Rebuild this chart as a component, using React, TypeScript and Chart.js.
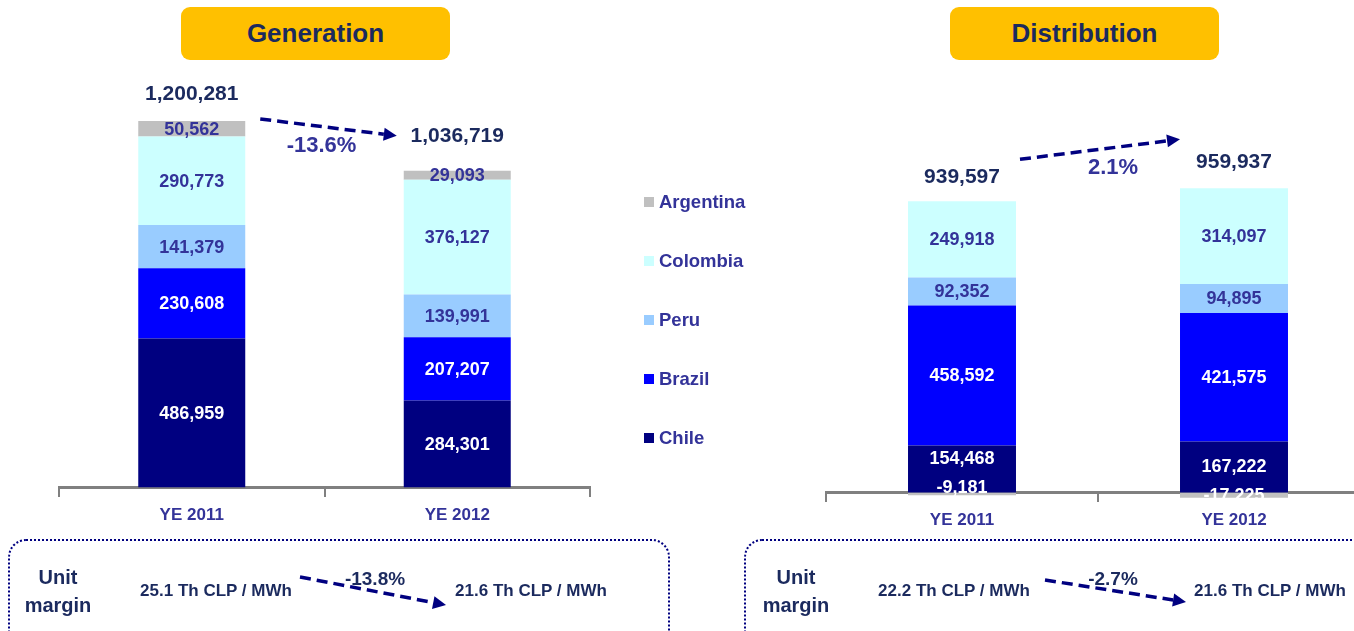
import { useEffect, useRef } from 'react';
import { Chart, registerables } from 'chart.js';

Chart.register(...registerables);

// ---------- data ----------
const categories = ['YE 2011', 'YE 2012'];
const seriesNames = ['Chile', 'Brazil', 'Peru', 'Colombia', 'Argentina'];

const genChile = [486959, 284301];
const genBrazil = [230608, 207207];
const genPeru = [141379, 139991];
const genColombia = [290773, 376127];
const genArgentina = [50562, 29093];
const genTotals = [1200281, 1036719];
const genChange = '-13.6%';

const distChile = [154468, 167222];
const distBrazil = [458592, 421575];
const distPeru = [92352, 94895];
const distColombia = [249918, 314097];
const distArgentina = [-9181, -17225];
const distTotals = [939597, 959937];
const distChange = '2.1%';

const genMargin = ['25.1 Th CLP / MWh', '21.6 Th CLP / MWh'];
const genMarginChange = '-13.8%';
const distMargin = ['22.2 Th CLP / MWh', '21.6 Th CLP / MWh'];
const distMarginChange = '-2.7%';

// ---------- styles ----------
const FONT = "'Liberation Sans', Arial, Helvetica, sans-serif";
const seriesColors = ['#000080', '#0000FF', '#99CCFF', '#CCFFFF', '#C0C0C0'];
const seriesLabelColors = ['#FFFFFF', '#FFFFFF', '#333399', '#333399', '#333399'];
const PURPLE = '#333399';
const DARK = '#1B2A5E';
const NAVY = '#000080';
const GOLD = '#FFC000';

Chart.defaults.font.family = FONT;

type Overlay = {
  totals: number[];
  totalLift: number[];
  change: string;
  arrowStart: [number, number];
  arrowEnd: [number, number];
  changeOffset: [number, number];
};

function fmt(v: number) {
  return v.toLocaleString('en-US');
}

function drawArrow(ctx: CanvasRenderingContext2D, x1: number, y1: number, x2: number, y2: number) {
  const ang = Math.atan2(y2 - y1, x2 - x1);
  const head = 13;
  const hw = 6.5;
  const bx = x2 - head * Math.cos(ang);
  const by = y2 - head * Math.sin(ang);
  ctx.save();
  ctx.strokeStyle = NAVY;
  ctx.lineWidth = 3.5;
  ctx.setLineDash([11, 6]);
  ctx.beginPath();
  ctx.moveTo(x1, y1);
  ctx.lineTo(bx, by);
  ctx.stroke();
  ctx.setLineDash([]);
  ctx.fillStyle = NAVY;
  ctx.beginPath();
  ctx.moveTo(x2, y2);
  ctx.lineTo(bx + hw * Math.sin(ang), by - hw * Math.cos(ang));
  ctx.lineTo(bx - hw * Math.sin(ang), by + hw * Math.cos(ang));
  ctx.closePath();
  ctx.fill();
  ctx.restore();
}

function makeOverlay(id: string, cfg: Overlay) {
  return {
    id,
    afterDatasetsDraw(chart: any) {
      const ctx: CanvasRenderingContext2D = chart.ctx;
      ctx.save();
      ctx.textAlign = 'center';
      ctx.textBaseline = 'middle';
      const tops: number[] = [];
      const bars: any[][] = [];
      // collect label placements first
      const labels: { text: string; x: number; y: number; color: string; neg: boolean; bar: number; order: number }[] = [];
      chart.data.datasets.forEach((ds: any, di: number) => {
        const meta = chart.getDatasetMeta(di);
        meta.data.forEach((el: any, i: number) => {
          const v = ds.data[i];
          const p = el.getProps(['x', 'y', 'base', 'width'], true);
          if (!bars[i]) bars[i] = [];
          bars[i].push(p);
          if (v > 0) tops[i] = tops[i] === undefined ? p.y : Math.min(tops[i], p.y);
          let cy = (p.y + p.base) / 2 + 1;
          const h = Math.abs(p.base - p.y);
          if (v < 0 && h < 4) cy = p.base - 4;
          labels.push({ text: fmt(v), x: p.x, y: cy, color: v < 0 ? '#FFFFFF' : ds.labelColor, neg: v < 0, bar: i, order: di });
        });
      });
      // keep the lowest positive label clear of a negative label in the same bar
      labels
        .filter((l) => l.neg)
        .forEach((n) => {
          const above = labels.find((l) => !l.neg && l.bar === n.bar && l.order === 0);
          if (above && n.y - above.y < 29) above.y = n.y - 29;
        });
      ctx.font = `bold 18px ${FONT}`;
      labels.forEach((l) => {
        ctx.fillStyle = l.color;
        ctx.fillText(l.text, l.x, l.y);
      });
      // totals
      ctx.font = `bold 21px ${FONT}`;
      ctx.fillStyle = DARK;
      cfg.totals.forEach((t, i) => {
        const p = bars[i][0];
        ctx.fillText(fmt(t), p.x, tops[i] - cfg.totalLift[i]);
      });
      // change arrow
      const b0 = bars[0][0];
      const b1 = bars[1][0];
      const x1 = b0.x + b0.width / 2 + cfg.arrowStart[0];
      const y1 = tops[0] + cfg.arrowStart[1];
      const x2 = b1.x - b1.width / 2 + cfg.arrowEnd[0];
      const y2 = tops[1] + cfg.arrowEnd[1];
      drawArrow(ctx, x1, y1, x2, y2);
      ctx.font = `bold 22px ${FONT}`;
      ctx.fillStyle = PURPLE;
      ctx.fillText(cfg.change, (x1 + x2) / 2 + cfg.changeOffset[0], (y1 + y2) / 2 + cfg.changeOffset[1]);
      ctx.restore();
    },
  };
}

function buildConfig(
  series: number[][],
  yMin: number,
  yMax: number,
  padding: { left: number; right: number; top: number; bottom: number },
  barPct: number,
  overlay: any
): any {
  return {
    type: 'bar',
    data: {
      labels: categories,
      datasets: seriesNames.map((name, k) => ({
        label: name,
        data: series[k],
        backgroundColor: seriesColors[k],
        labelColor: seriesLabelColors[k],
        borderWidth: 0,
        barPercentage: barPct,
        categoryPercentage: 1,
      })),
    },
    options: {
      responsive: false,
      animation: false,
      devicePixelRatio: 1,
      layout: { padding },
      plugins: {
        legend: { display: false },
        tooltip: { enabled: false },
      },
      scales: {
        x: {
          stacked: true,
          position: { y: 0 },
          offset: true,
          grid: {
            display: true,
            drawOnChartArea: false,
            drawTicks: true,
            tickLength: 8,
            color: '#808080',
            lineWidth: 2,
            offset: true,
          },
          border: { display: true, color: '#808080', width: 3 },
          ticks: {
            color: PURPLE,
            padding: 10,
            font: { family: FONT, size: 17, weight: 'bold' },
          },
        },
        y: { stacked: true, display: false, min: yMin, max: yMax },
      },
    },
    plugins: [overlay],
  };
}

function Arrow({ x1, y1, x2, y2 }: { x1: number; y1: number; x2: number; y2: number }) {
  const ang = Math.atan2(y2 - y1, x2 - x1);
  const head = 13;
  const hw = 6.5;
  const bx = x2 - head * Math.cos(ang);
  const by = y2 - head * Math.sin(ang);
  const pts = `${x2},${y2} ${bx + hw * Math.sin(ang)},${by - hw * Math.cos(ang)} ${bx - hw * Math.sin(ang)},${by + hw * Math.cos(ang)}`;
  return (
    <g>
      <line x1={x1} y1={y1} x2={bx} y2={by} stroke={NAVY} strokeWidth={3.5} strokeDasharray="11 6" />
      <polygon points={pts} fill={NAVY} />
    </g>
  );
}

function Txt({ x, y, size, color, children }: any) {
  return (
    <div
      style={{
        position: 'absolute',
        left: x,
        top: y,
        transform: 'translate(-50%, -50%)',
        fontSize: size,
        fontWeight: 'bold',
        color,
        whiteSpace: 'nowrap',
        lineHeight: 1,
      }}
    >
      {children}
    </div>
  );
}

function TitleBox({ left, text }: { left: number; text: string }) {
  return (
    <div
      style={{
        position: 'absolute',
        left,
        top: 7,
        width: 269,
        height: 53,
        background: GOLD,
        borderRadius: 9,
        display: 'flex',
        alignItems: 'center',
        justifyContent: 'center',
        fontSize: 26,
        fontWeight: 'bold',
        color: DARK,
      }}
    >
      {text}
    </div>
  );
}

const legendRowsY = [202, 261, 320, 379, 438];

export default function App() {
  const genRef = useRef<HTMLCanvasElement>(null);
  const distRef = useRef<HTMLCanvasElement>(null);

  useEffect(() => {
    document.body.style.margin = '0';
    const gen = new Chart(
      genRef.current as HTMLCanvasElement,
      buildConfig(
        [genChile, genBrazil, genPeru, genColombia, genArgentina],
        -150000,
        1400000,
        { left: 59, right: 30, top: 60, bottom: 27 },
        0.403,
        makeOverlay('genOverlay', {
          totals: genTotals,
          totalLift: [27, 35],
          change: genChange,
          arrowStart: [15, -2],
          arrowEnd: [-7, -35],
          changeOffset: [-7, 19],
        })
      )
    );
    const dist = new Chart(
      distRef.current as HTMLCanvasElement,
      buildConfig(
        [distChile, distBrazil, distPeru, distColombia, distArgentina],
        -150000,
        1420000,
        { left: 126, right: 30, top: 59.6, bottom: 21.8 },
        0.397,
        makeOverlay('distOverlay', {
          totals: distTotals,
          totalLift: [24, 26],
          change: distChange,
          arrowStart: [4, -42],
          arrowEnd: [0, -49],
          changeOffset: [13, 19],
        })
      )
    );
    return () => {
      gen.destroy();
      dist.destroy();
    };
  }, []);

  const legend = seriesNames
    .map((n, k) => ({ name: n, color: seriesColors[k] }))
    .reverse();

  const boxStyle: any = {
    position: 'absolute',
    top: 539,
    height: 120,
    border: '2px dotted #000080',
    borderRadius: 18,
    boxSizing: 'border-box',
  };

  return (
    <div
      style={{
        position: 'fixed',
        left: 0,
        top: 0,
        width: 1354,
        height: 631,
        overflow: 'hidden',
        background: '#FFFFFF',
        fontFamily: FONT,
      }}
    >
      <canvas ref={genRef} width={620} height={560} style={{ position: 'absolute', left: 0, top: 0 }} />
      <canvas ref={distRef} width={700} height={560} style={{ position: 'absolute', left: 700, top: 0 }} />

      <TitleBox left={181} text="Generation" />
      <TitleBox left={950} text="Distribution" />

      {legend.map((item, i) => (
        <div key={item.name}>
          <div
            style={{
              position: 'absolute',
              left: 644,
              top: legendRowsY[i] - 5,
              width: 10,
              height: 10,
              background: item.color,
            }}
          />
          <div
            style={{
              position: 'absolute',
              left: 659,
              top: legendRowsY[i],
              transform: 'translateY(-50%)',
              fontSize: 18.5,
              fontWeight: 'bold',
              color: PURPLE,
              lineHeight: 1,
              whiteSpace: 'nowrap',
            }}
          >
            {item.name}
          </div>
        </div>
      ))}

      {/* unit margin boxes */}
      <div style={{ ...boxStyle, left: 8, width: 662 }} />
      <div style={{ ...boxStyle, left: 744, width: 700 }} />
      <svg width={1354} height={631} style={{ position: 'absolute', left: 0, top: 0 }}>
        <Arrow x1={300} y1={577} x2={446} y2={605} />
        <Arrow x1={1045} y1={580} x2={1186} y2={602} />
      </svg>

      <Txt x={58} y={577} size={20} color={DARK}>Unit</Txt>
      <Txt x={58} y={605} size={20} color={DARK}>margin</Txt>
      <Txt x={216} y={590} size={17} color={DARK}>{genMargin[0]}</Txt>
      <Txt x={375} y={578} size={19} color={DARK}>{genMarginChange}</Txt>
      <Txt x={531} y={590} size={17} color={DARK}>{genMargin[1]}</Txt>

      <Txt x={796} y={577} size={20} color={DARK}>Unit</Txt>
      <Txt x={796} y={605} size={20} color={DARK}>margin</Txt>
      <Txt x={954} y={590} size={17} color={DARK}>{distMargin[0]}</Txt>
      <Txt x={1113} y={578} size={19} color={DARK}>{distMarginChange}</Txt>
      <Txt x={1270} y={590} size={17} color={DARK}>{distMargin[1]}</Txt>
    </div>
  );
}
